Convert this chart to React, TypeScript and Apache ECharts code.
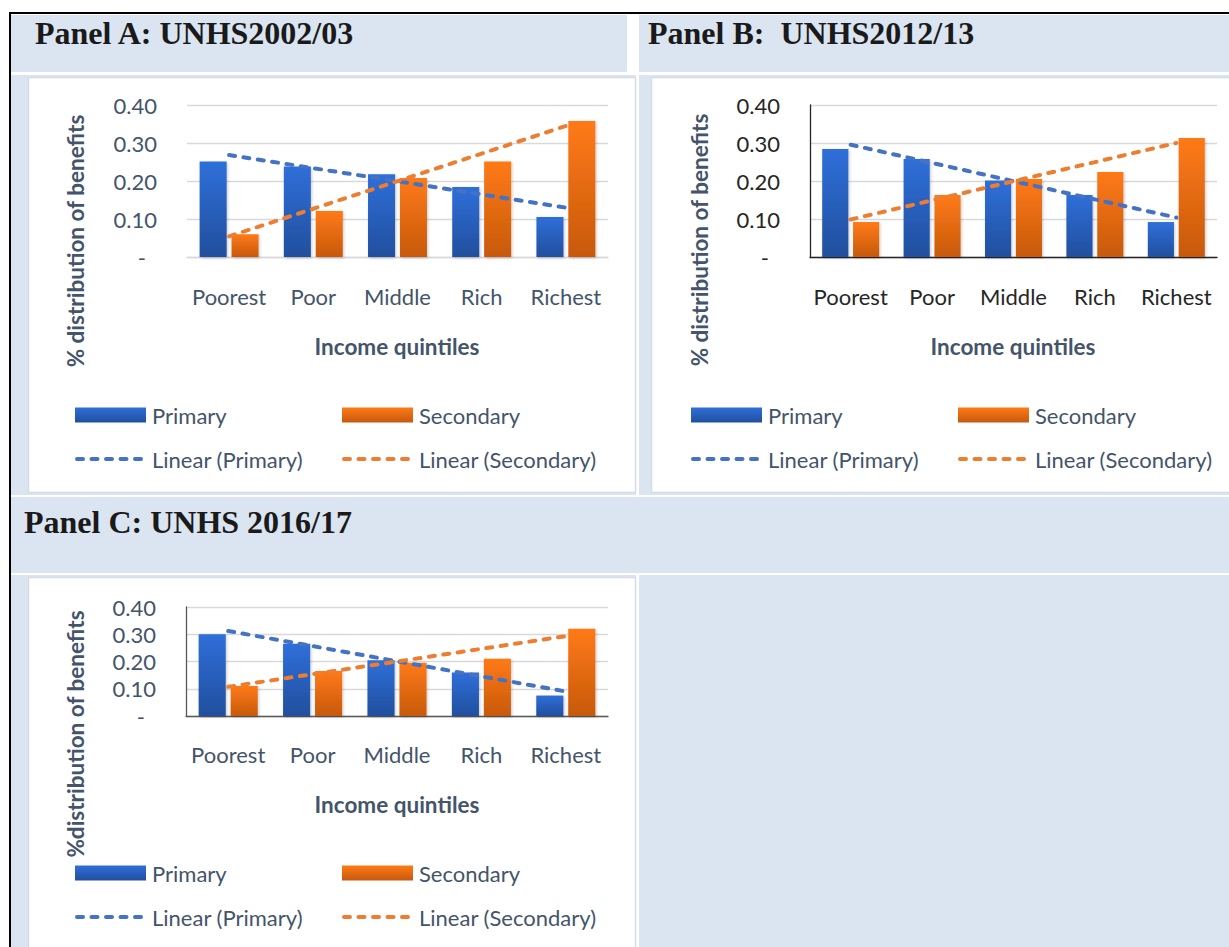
import React, { useEffect, useRef } from "react";
import * as echarts from "echarts";

// Benefit incidence by income quintile, three survey rounds
const quintiles = ["Poorest", "Poor", "Middle", "Rich", "Richest"];

const primary2002 = [0.251, 0.238, 0.218, 0.184, 0.105];
const secondary2002 = [0.06, 0.121, 0.208, 0.251, 0.358];

const primary2012 = [0.284, 0.258, 0.201, 0.163, 0.092];
const secondary2012 = [0.092, 0.163, 0.205, 0.224, 0.313];

const primary2016 = [0.3, 0.265, 0.205, 0.16, 0.075];
const secondary2016 = [0.11, 0.165, 0.195, 0.21, 0.32];

const yMin = 0;
const yMax = 0.4;
const yStep = 0.1;

const panelTitles = ["Panel A: UNHS2002/03", "Panel B:  UNHS2012/13", "Panel C: UNHS 2016/17"];
const yTitles = ["% distribution of benefits", "% distribution of benefits", "%distribution of benefits"];
const xTitle = "Income quintiles";
const seriesNames = ["Primary", "Secondary", "Linear (Primary)", "Linear (Secondary)"];

// Ordinary least-squares trend over the category positions 1..n
function linearTrend(values: number[]): number[] {
  const n = values.length;
  const mx = (n + 1) / 2;
  const my = values.reduce((a, b) => a + b, 0) / n;
  let sxy = 0;
  let sxx = 0;
  values.forEach((v, i) => {
    const dx = i + 1 - mx;
    sxy += dx * (v - my);
    sxx += dx * dx;
  });
  const slope = sxy / sxx;
  return values.map((_, i) => my + slope * (i + 1 - mx));
}

const FONT = 'Lato, "Noto Sans", sans-serif';
const SLATE = "#44546A";
const BLUE_CELL = "#DBE5F1";
const TREND_BLUE = "#4472C4";
const TREND_ORANGE = "#ED7D31";
const TREND_DASH = [6, 8.5];

const blueFill = () =>
  new echarts.graphic.LinearGradient(0, 0, 0, 1, [
    { offset: 0, color: "#2F6FD9" },
    { offset: 1, color: "#214F9E" },
  ]);
const orangeFill = () =>
  new echarts.graphic.LinearGradient(0, 0, 0, 1, [
    { offset: 0, color: "#FF7A14" },
    { offset: 1, color: "#C7590F" },
  ]);

type PanelLayout = {
  grid: { left: number; top: number; width: number; height: number };
  tickColor: string;
  axisLineColor: string;
  showYAxisLine: boolean;
  labelMargin: number;
  yTitleAt: [number, number];
  xTitleAt: [number, number];
  legendLeft: [number, number];
  legendTop: [number, number];
};

const layouts: PanelLayout[] = [
  {
    grid: { left: 187, top: 105, width: 421, height: 152 },
    tickColor: SLATE,
    axisLineColor: "#D9D9D9",
    showYAxisLine: false,
    labelMargin: 28,
    yTitleAt: [75, 241],
    xTitleAt: [397, 346],
    legendLeft: [75, 342],
    legendTop: [404, 448],
  },
  {
    grid: { left: 810, top: 105, width: 407, height: 152 },
    tickColor: "#262626",
    axisLineColor: "#262626",
    showYAxisLine: true,
    labelMargin: 28,
    yTitleAt: [699, 240],
    xTitleAt: [1013, 346],
    legendLeft: [691, 958],
    legendTop: [404, 448],
  },
  {
    grid: { left: 186, top: 607, width: 422, height: 109 },
    tickColor: SLATE,
    axisLineColor: "#595959",
    showYAxisLine: true,
    labelMargin: 27,
    yTitleAt: [75, 734],
    xTitleAt: [397, 804],
    legendLeft: [75, 342],
    legendTop: [862, 906],
  },
];

const panelData = [
  { primary: primary2002, secondary: secondary2002 },
  { primary: primary2012, secondary: secondary2012 },
  { primary: primary2016, secondary: secondary2016 },
];

function buildOption() {
  const grids: any[] = [];
  const xAxes: any[] = [];
  const yAxes: any[] = [];
  const series: any[] = [];
  const legends: any[] = [];
  const graphics: any[] = [];

  // table cells behind the charts
  const rect = (x: number, y: number, w: number, h: number, fill: string, stroke?: string) => ({
    type: "rect",
    z: -20,
    silent: true,
    shape: { x, y, width: w, height: h },
    style: stroke ? { fill, stroke, lineWidth: 1.5 } : { fill },
  });
  graphics.push(rect(11, 15, 616, 57, BLUE_CELL));
  graphics.push(rect(639, 15, 590, 57, BLUE_CELL));
  graphics.push(rect(11, 75, 625, 420, BLUE_CELL));
  graphics.push(rect(639, 75, 590, 420, BLUE_CELL));
  graphics.push(rect(11, 497, 1218, 76, BLUE_CELL));
  graphics.push(rect(11, 575, 625, 372, BLUE_CELL));
  graphics.push(rect(639, 575, 590, 372, BLUE_CELL));
  graphics.push(rect(28.5, 77.5, 607, 415, "#FFFFFF", "#D6DCE5"));
  graphics.push(rect(651.5, 77.5, 580, 415, "#FFFFFF", "#D6DCE5"));
  graphics.push(rect(28.5, 577.5, 607, 372, "#FFFFFF", "#D6DCE5"));
  graphics.push(rect(9, 12, 1220, 2, "#000000"));
  graphics.push(rect(9, 12, 2, 935, "#000000"));

  const titlePos: [number, number][] = [
    [35, 33],
    [648, 33],
    [24, 522],
  ];
  panelTitles.forEach((t, i) => {
    graphics.push({
      type: "text",
      z: 10,
      x: titlePos[i][0],
      y: titlePos[i][1],
      style: {
        text: t,
        font: 'bold 32px "Liberation Serif", "Times New Roman", serif',
        fill: "#1A1A1A",
        align: "left",
        verticalAlign: "middle",
      },
    });
  });

  layouts.forEach((L, i) => {
    const d = panelData[i];
    grids.push({ ...L.grid, containLabel: false });
    xAxes.push({
      type: "category",
      gridIndex: i,
      data: quintiles,
      axisTick: { show: false },
      axisLine: { show: true, lineStyle: { color: L.axisLineColor, width: 1.3 } },
      axisLabel: { interval: 0, color: L.tickColor, fontFamily: FONT, fontSize: 22, margin: L.labelMargin },
      splitLine: { show: false },
    });
    yAxes.push({
      type: "value",
      gridIndex: i,
      min: yMin,
      max: yMax,
      interval: yStep,
      axisTick: { show: false },
      axisLine: { show: L.showYAxisLine, lineStyle: { color: L.axisLineColor, width: 1.3 } },
      splitLine: { show: true, lineStyle: { color: "#D9D9D9", width: 1.3 } },
      axisLabel: {
        color: L.tickColor,
        fontFamily: FONT,
        fontSize: 22,
        margin: 30,
        formatter: (v: number) => (v === 0 ? "{d|-}" : v.toFixed(2)),
        rich: { d: { color: L.tickColor, fontFamily: FONT, fontSize: 22, padding: [0, 11, 0, 0] } },
      },
    });

    const barShadow = { shadowBlur: 3, shadowOffsetX: 1, shadowOffsetY: 1, shadowColor: "rgba(0,0,0,0.22)" };
    series.push({
      name: seriesNames[0],
      type: "bar",
      xAxisIndex: i,
      yAxisIndex: i,
      data: d.primary,
      barCategoryGap: "30%",
      barGap: "18%",
      itemStyle: { color: blueFill(), ...barShadow },
      z: 2,
    });
    series.push({
      name: seriesNames[1],
      type: "bar",
      xAxisIndex: i,
      yAxisIndex: i,
      data: d.secondary,
      barCategoryGap: "30%",
      barGap: "18%",
      itemStyle: { color: orangeFill(), ...barShadow },
      z: 2,
    });
    series.push({
      name: seriesNames[2],
      type: "line",
      xAxisIndex: i,
      yAxisIndex: i,
      data: linearTrend(d.primary),
      symbol: "none",
      z: 5,
      itemStyle: { color: TREND_BLUE },
      lineStyle: { color: TREND_BLUE, width: 4, type: TREND_DASH, cap: "round" },
    });
    series.push({
      name: seriesNames[3],
      type: "line",
      xAxisIndex: i,
      yAxisIndex: i,
      data: linearTrend(d.secondary),
      symbol: "none",
      z: 5,
      itemStyle: { color: TREND_ORANGE },
      lineStyle: { color: TREND_ORANGE, width: 4, type: TREND_DASH, cap: "round" },
    });

    seriesNames.forEach((name, k) => {
      const isBar = k < 2;
      const common = {
        show: true,
        left: L.legendLeft[k % 2],
        top: L.legendTop[isBar ? 0 : 1],
        padding: 0,
        itemHeight: 15,
        itemGap: 0,
        selectedMode: false,
        data: [name],
      };
      legends.push(
        isBar
          ? {
              ...common,
              icon: "rect",
              itemWidth: 71,
              textStyle: { color: SLATE, fontFamily: FONT, fontSize: 22, padding: [0, 0, 0, 1] },
            }
          : {
              ...common,
              itemWidth: 70,
              itemStyle: { opacity: 0 },
              lineStyle: { width: 4, type: TREND_DASH, cap: "round" },
              textStyle: { color: SLATE, fontFamily: FONT, fontSize: 22, padding: 0 },
            }
      );
    });

    graphics.push({
      type: "text",
      z: 10,
      x: L.yTitleAt[0],
      y: L.yTitleAt[1],
      rotation: Math.PI / 2,
      style: {
        text: yTitles[i],
        font: `bold 22.5px ${FONT}`,
        fill: SLATE,
        align: "center",
        verticalAlign: "middle",
      },
    });
    graphics.push({
      type: "text",
      z: 10,
      x: L.xTitleAt[0],
      y: L.xTitleAt[1],
      style: {
        text: xTitle,
        font: `bold 22.5px ${FONT}`,
        fill: SLATE,
        align: "center",
        verticalAlign: "middle",
      },
    });
  });

  return {
    animation: false,
    backgroundColor: "#FFFFFF",
    grid: grids,
    xAxis: xAxes,
    yAxis: yAxes,
    series,
    legend: legends,
    graphic: graphics,
  };
}

export default function App() {
  const ref = useRef<HTMLDivElement>(null);
  useEffect(() => {
    if (!ref.current) return;
    const chart = echarts.init(ref.current, undefined, { renderer: "svg" });
    chart.setOption(buildOption());
    return () => chart.dispose();
  }, []);
  return (
    <div
      ref={ref}
      style={{ position: "absolute", left: 0, top: 0, width: 1229, height: 947 }}
    />
  );
}
